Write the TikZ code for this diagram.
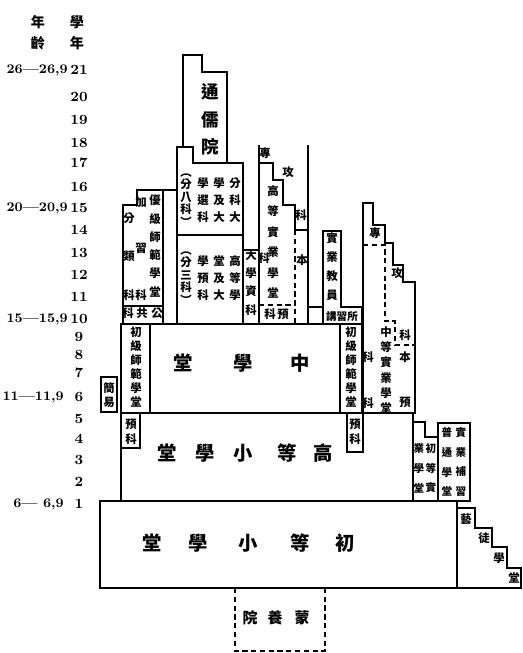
\documentclass[tikz,border=0pt]{standalone}
\usepackage{fontspec}
\newfontfamily\cjk{Noto Sans CJK TC}

\begin{document}
\begin{tikzpicture}[x=0.02cm, y=-0.02cm,
    wall/.style={line width=0.9pt},
    dotwall/.style={line width=0.9pt, dash pattern=on 3pt off 2pt},
    big/.style={font=\cjk\bfseries\fontsize{11}{12}\selectfont, inner sep=0pt},
    ch/.style={font=\cjk\bfseries\fontsize{6.5}{7}\selectfont, inner sep=0pt},
    vt/.style={font=\cjk\bfseries\fontsize{6.5}{#1}\selectfont, align=center, inner sep=0pt},
    num/.style={font=\bfseries\fontsize{8}{9}\selectfont, inner sep=0pt},
    age/.style={font=\bfseries\fontsize{7.5}{9}\selectfont, inner sep=0pt, anchor=east}]
    \useasboundingbox (0,0) rectangle (522,653);

    % Headings and scale
    \node[vt=11.9pt, font=\cjk\bfseries\fontsize{8}{11.9pt}\selectfont] (hage) at (38,32.5) {年\\齡};
    \node[vt=11.9pt, font=\cjk\bfseries\fontsize{8}{11.9pt}\selectfont] (hyear) at (77,32.5) {學\\年};
    \foreach \g/\y in {21/70, 20/97, 19/120, 18/143, 17/163, 16/187, 15/208, 14/230,
        13/253, 12/275, 11/297, 10/319, 9/337, 8/355, 7/373, 6/397, 5/419, 4/439,
        3/460, 2/482, 1/504}
        \node[num] (g\g) at (79,\y) {\g};
    \node[age] (a26) at (68,70) {26—26,9};
    \node[age] (a20) at (68,208) {20—20,9};
    \node[age] (a15) at (68,319) {15—15,9};
    \node[age] (a11) at (64,397) {11—11,9};
    \node[age] (a6) at (64,504) {6— 6,9};

    % Outlines
    \draw[wall] (100,501) rectangle (457,588);
    \draw[wall] (121,413) rectangle (413,501);
    \draw[wall] (121,413) rectangle (140,448);
    \draw[wall] (347,413) rectangle (363,452);
    \draw[wall] (121,324) rectangle (362,413);
    \draw[wall] (150,324) -- (150,413);
    \draw[wall] (340,324) -- (340,413);
    \draw[wall] (101,377) rectangle (117,412);
    \draw[wall] (123,324) -- (123,205) -- (137,205) -- (137,190) -- (177,190);
    \draw[wall] (163,190) -- (163,324);
    \draw[wall] (123,306) -- (163,306);
    \draw[wall] (177,324) -- (177,147) -- (193,147) -- (193,163) -- (243,163) -- (243,324);
    \draw[wall] (177,235) -- (243,235);
    \draw[wall] (183,147) -- (183,55) -- (202,55) -- (202,72) -- (227,72) -- (227,163);
    \draw[wall] (243,250) -- (259,250);
    \draw[wall] (259,145) -- (259,324);
    \draw[wall] (308,145) -- (308,324);
    \draw[wall] (259,163) -- (273,163) -- (273,180) -- (283,180) -- (283,205)
        -- (295,205) -- (295,230) -- (308,230);
    \draw[dotwall] (295,230) -- (295,324);
    \draw[dotwall] (259,305) -- (295,305);
    \draw[wall] (308,307) -- (323,307);
    \draw[wall] (323,324) -- (323,231) -- (341,231) -- (341,307) -- (362,307) -- (362,324);
    \draw[wall] (363,413) -- (363,203) -- (373,203) -- (373,225) -- (385,225) -- (385,243)
        -- (393,243) -- (393,265) -- (403,265) -- (403,282) -- (415,282) -- (415,413) -- cycle;
    \draw[dotwall] (363,245) -- (385,245) -- (385,321) -- (395,321) -- (395,345) -- (415,345);
    \draw[wall] (413,501) -- (413,422) -- (425,422) -- (425,437) -- (438,437) -- (438,501);
    \draw[wall] (438,437) -- (438,423) -- (470,423) -- (470,501) -- (438,501);
    \draw[wall] (457,508) -- (475,508) -- (475,528) -- (492,528) -- (492,547)
        -- (507,547) -- (507,568) -- (521,568) -- (521,588) -- (457,588);
    \draw[dotwall] (235,588) -- (235,651) -- (325,651) -- (325,588);

    % Lower schools
    \foreach \x/\c [count=\i] in {152/堂, 198/學, 248/小, 300/等, 345/初}
        \node[big] (lower\i) at (\x,543) {\c};
    \foreach \x/\c [count=\i] in {167/堂, 205/學, 243/小, 287/等, 323/高}
        \node[big] (higher\i) at (\x,453) {\c};
    \foreach \x/\c [count=\i] in {183/堂, 243/學, 300/中}
        \node[big] (middle\i) at (\x,363) {\c};
    \node[vt=8.5pt] (prepl) at (131,432) {預\\科};
    \node[vt=8.5pt] (prepr) at (355,432) {預\\科};
    \node[vt=7.9pt] (normall) at (136,367) {初\\級\\師\\範\\學\\堂};
    \node[vt=7.9pt] (normalr) at (351,367) {初\\級\\師\\範\\學\\堂};
    \node[vt=7.9pt] (simple) at (109,395) {簡\\易};

    % Higher normal school
    \node[vt=10.4pt] (upnormal) at (155,246) {優\\級\\師\\範\\學\\堂};
    \node[vt=21.8pt] (sorted) at (129,256.5) {分\\類\\科};
    \node[vt=26.4pt] (extra) at (141,248.5) {加\\習\\科};
    \node[ch] (pub1) at (128,313) {科};
    \node[ch] (pub2) at (142,313) {共};
    \node[ch] (pub3) at (157,313) {公};

    % University and higher school
    \node[vt=15.6pt, font=\cjk\bfseries\fontsize{10}{15.6pt}\selectfont] (tongru) at (210,119.5) {通\\儒\\院};
    \node[vt=9.6pt] (uni1) at (235,200) {分\\科\\大};
    \node[vt=9.6pt] (uni2) at (219,200) {學\\及\\大};
    \node[vt=9.6pt] (uni3) at (203,200) {學\\選\\科};
    \node[vt=7.1pt] (uni4) at (186,200) {︵\\分\\八\\科\\︶};
    \node[vt=9.6pt] (hs1) at (235,278) {高\\等\\學};
    \node[vt=9.6pt] (hs2) at (219,278) {堂\\及\\大};
    \node[vt=9.6pt] (hs3) at (203,278) {學\\預\\科};
    \node[vt=7.1pt] (hs4) at (186,278) {︵\\分\\三\\科\\︶};
    \node[vt=10.4pt] (unisub) at (251,282.5) {大\\學\\資\\科};

    % Higher technical school
    \node[ch] (hzhuan) at (265,153) {專};
    \node[ch] (hgong) at (288,172) {攻};
    \node[ch] (hke) at (301,215) {科};
    \node[vt=11.7pt] (htech) at (273,242) {高\\等\\實\\業\\學\\堂};
    \node[ch] (hben2) at (264,258) {科};
    \node[ch] (hben1) at (302,260) {本};
    \node[ch] (hpre2) at (270,314) {科};
    \node[ch] (hpre1) at (283,314) {預};
    \node[vt=10.8pt] (teacher) at (332,267) {實\\業\\教\\員};
    \node[ch, font=\cjk\bfseries\fontsize{6}{7}\selectfont] (lecture) at (342,316) {講習所};

    % Middle technical school
    \node[ch] (mzhuan) at (375,233) {專};
    \node[ch] (mgong) at (397,273) {攻};
    \node[ch] (mke) at (405,335) {科};
    \node[vt=8.7pt] (mtech) at (386,370) {中\\等\\實\\業\\學\\堂};
    \node[ch] (mben2) at (368,357) {科};
    \node[ch] (mben1) at (405,357) {本};
    \node[ch] (mpre2) at (368,403) {科};
    \node[ch] (mpre1) at (405,402) {預};

    % Elementary technical schools
    \node[vt=11.3pt, font=\cjk\bfseries\fontsize{6}{11.3pt}\selectfont] (ltech1) at (431,468) {初\\等\\實};
    \node[vt=11.3pt, font=\cjk\bfseries\fontsize{6}{11.3pt}\selectfont] (ltech2) at (419,468) {業\\學\\堂};
    \node[vt=11.3pt, font=\cjk\bfseries\fontsize{6}{11.3pt}\selectfont] (supp1) at (461,462) {實\\業\\補\\習};
    \node[vt=11.3pt, font=\cjk\bfseries\fontsize{6}{11.3pt}\selectfont] (supp2) at (447,462) {普\\通\\學\\堂};
    \node[ch] (art1) at (466,519) {藝};
    \node[ch] (art2) at (484,538) {徒};
    \node[ch] (art3) at (499,558) {學};
    \node[ch] (art4) at (514,578) {堂};

    % Kindergarten
    \foreach \x/\c [count=\i] in {250/院, 275/養, 302/蒙}
        \node[ch, font=\cjk\bfseries\fontsize{8.5}{9}\selectfont] (kind\i) at (\x,618) {\c};
\end{tikzpicture}
\end{document}
